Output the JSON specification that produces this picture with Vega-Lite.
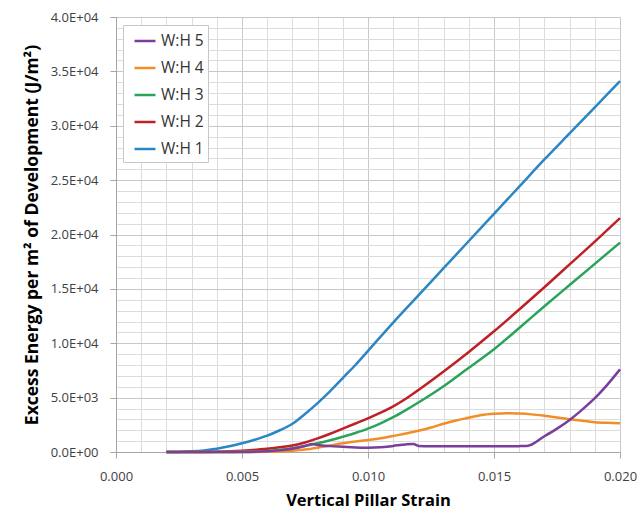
{
  "$schema": "https://vega.github.io/schema/vega-lite/v6.json",
  "width": 504,
  "height": 435,
  "autosize": {"type": "none"},
  "padding": {"left": 116, "top": 17, "right": 21, "bottom": 62},
  "background": "white",
  "config": {
    "font": "Open Sans",
    "view": {"stroke": "#c0c0c0", "strokeWidth": 1}
  },
  "datasets": {
    "d": [
      {"s": 0.002, "e": 0, "c": "W:H 1"}, {"s": 0.0025, "e": 10, "c": "W:H 1"}, {"s": 0.003, "e": 60, "c": "W:H 1"}, {"s": 0.0035, "e": 150, "c": "W:H 1"}, {"s": 0.004, "e": 300, "c": "W:H 1"}, {"s": 0.0045, "e": 520, "c": "W:H 1"}, {"s": 0.005, "e": 800, "c": "W:H 1"}, {"s": 0.0055, "e": 1120, "c": "W:H 1"}, {"s": 0.006, "e": 1500, "c": "W:H 1"}, {"s": 0.0065, "e": 2000, "c": "W:H 1"}, {"s": 0.007, "e": 2600, "c": "W:H 1"}, {"s": 0.0075, "e": 3500, "c": "W:H 1"}, {"s": 0.008, "e": 4500, "c": "W:H 1"}, {"s": 0.0085, "e": 5600, "c": "W:H 1"}, {"s": 0.009, "e": 6800, "c": "W:H 1"}, {"s": 0.0095, "e": 8000, "c": "W:H 1"}, {"s": 0.010, "e": 9300, "c": "W:H 1"}, {"s": 0.011, "e": 11900, "c": "W:H 1"}, {"s": 0.012, "e": 14400, "c": "W:H 1"}, {"s": 0.013, "e": 16900, "c": "W:H 1"}, {"s": 0.014, "e": 19400, "c": "W:H 1"}, {"s": 0.015, "e": 21900, "c": "W:H 1"}, {"s": 0.016, "e": 24400, "c": "W:H 1"}, {"s": 0.017, "e": 26900, "c": "W:H 1"}, {"s": 0.018, "e": 29300, "c": "W:H 1"}, {"s": 0.019, "e": 31700, "c": "W:H 1"}, {"s": 0.020, "e": 34100, "c": "W:H 1"},

      {"s": 0.002, "e": 0, "c": "W:H 2"}, {"s": 0.003, "e": 0, "c": "W:H 2"}, {"s": 0.004, "e": 30, "c": "W:H 2"}, {"s": 0.005, "e": 120, "c": "W:H 2"}, {"s": 0.006, "e": 300, "c": "W:H 2"}, {"s": 0.0065, "e": 430, "c": "W:H 2"}, {"s": 0.007, "e": 600, "c": "W:H 2"}, {"s": 0.0075, "e": 880, "c": "W:H 2"}, {"s": 0.008, "e": 1250, "c": "W:H 2"}, {"s": 0.0085, "e": 1680, "c": "W:H 2"}, {"s": 0.009, "e": 2150, "c": "W:H 2"}, {"s": 0.0095, "e": 2620, "c": "W:H 2"}, {"s": 0.010, "e": 3100, "c": "W:H 2"}, {"s": 0.0105, "e": 3620, "c": "W:H 2"}, {"s": 0.011, "e": 4200, "c": "W:H 2"}, {"s": 0.0115, "e": 4900, "c": "W:H 2"}, {"s": 0.012, "e": 5700, "c": "W:H 2"}, {"s": 0.013, "e": 7400, "c": "W:H 2"}, {"s": 0.014, "e": 9200, "c": "W:H 2"}, {"s": 0.015, "e": 11100, "c": "W:H 2"}, {"s": 0.016, "e": 13100, "c": "W:H 2"}, {"s": 0.017, "e": 15150, "c": "W:H 2"}, {"s": 0.018, "e": 17250, "c": "W:H 2"}, {"s": 0.019, "e": 19350, "c": "W:H 2"}, {"s": 0.020, "e": 21500, "c": "W:H 2"},

      {"s": 0.002, "e": 0, "c": "W:H 3"}, {"s": 0.004, "e": 0, "c": "W:H 3"}, {"s": 0.005, "e": 30, "c": "W:H 3"}, {"s": 0.006, "e": 100, "c": "W:H 3"}, {"s": 0.0065, "e": 200, "c": "W:H 3"}, {"s": 0.007, "e": 350, "c": "W:H 3"}, {"s": 0.0075, "e": 550, "c": "W:H 3"}, {"s": 0.008, "e": 800, "c": "W:H 3"}, {"s": 0.0085, "e": 1080, "c": "W:H 3"}, {"s": 0.009, "e": 1400, "c": "W:H 3"}, {"s": 0.0095, "e": 1750, "c": "W:H 3"}, {"s": 0.010, "e": 2150, "c": "W:H 3"}, {"s": 0.0105, "e": 2640, "c": "W:H 3"}, {"s": 0.011, "e": 3200, "c": "W:H 3"}, {"s": 0.0115, "e": 3850, "c": "W:H 3"}, {"s": 0.012, "e": 4550, "c": "W:H 3"}, {"s": 0.013, "e": 6050, "c": "W:H 3"}, {"s": 0.014, "e": 7750, "c": "W:H 3"}, {"s": 0.015, "e": 9450, "c": "W:H 3"}, {"s": 0.016, "e": 11400, "c": "W:H 3"}, {"s": 0.017, "e": 13400, "c": "W:H 3"}, {"s": 0.018, "e": 15350, "c": "W:H 3"}, {"s": 0.019, "e": 17300, "c": "W:H 3"}, {"s": 0.020, "e": 19250, "c": "W:H 3"},

      {"s": 0.002, "e": 0, "c": "W:H 4"}, {"s": 0.005, "e": 0, "c": "W:H 4"}, {"s": 0.006, "e": 20, "c": "W:H 4"}, {"s": 0.007, "e": 120, "c": "W:H 4"}, {"s": 0.0075, "e": 230, "c": "W:H 4"}, {"s": 0.008, "e": 400, "c": "W:H 4"}, {"s": 0.0085, "e": 600, "c": "W:H 4"}, {"s": 0.009, "e": 800, "c": "W:H 4"}, {"s": 0.0095, "e": 960, "c": "W:H 4"}, {"s": 0.010, "e": 1100, "c": "W:H 4"}, {"s": 0.0105, "e": 1260, "c": "W:H 4"}, {"s": 0.011, "e": 1480, "c": "W:H 4"}, {"s": 0.0115, "e": 1700, "c": "W:H 4"}, {"s": 0.012, "e": 1950, "c": "W:H 4"}, {"s": 0.0125, "e": 2250, "c": "W:H 4"}, {"s": 0.013, "e": 2600, "c": "W:H 4"}, {"s": 0.0135, "e": 2900, "c": "W:H 4"}, {"s": 0.014, "e": 3150, "c": "W:H 4"}, {"s": 0.0145, "e": 3400, "c": "W:H 4"}, {"s": 0.015, "e": 3520, "c": "W:H 4"}, {"s": 0.0155, "e": 3570, "c": "W:H 4"}, {"s": 0.016, "e": 3540, "c": "W:H 4"}, {"s": 0.0165, "e": 3460, "c": "W:H 4"}, {"s": 0.017, "e": 3330, "c": "W:H 4"}, {"s": 0.0175, "e": 3180, "c": "W:H 4"}, {"s": 0.018, "e": 3020, "c": "W:H 4"}, {"s": 0.0185, "e": 2870, "c": "W:H 4"}, {"s": 0.019, "e": 2740, "c": "W:H 4"}, {"s": 0.0195, "e": 2680, "c": "W:H 4"}, {"s": 0.020, "e": 2650, "c": "W:H 4"},

      {"s": 0.002, "e": 0, "c": "W:H 5"}, {"s": 0.005, "e": 0, "c": "W:H 5"}, {"s": 0.006, "e": 60, "c": "W:H 5"}, {"s": 0.0065, "e": 150, "c": "W:H 5"}, {"s": 0.007, "e": 300, "c": "W:H 5"}, {"s": 0.0075, "e": 560, "c": "W:H 5"}, {"s": 0.0078, "e": 740, "c": "W:H 5"}, {"s": 0.008, "e": 650, "c": "W:H 5"}, {"s": 0.0085, "e": 540, "c": "W:H 5"}, {"s": 0.009, "e": 480, "c": "W:H 5"}, {"s": 0.0095, "e": 420, "c": "W:H 5"}, {"s": 0.010, "e": 400, "c": "W:H 5"}, {"s": 0.0105, "e": 430, "c": "W:H 5"}, {"s": 0.011, "e": 560, "c": "W:H 5"}, {"s": 0.0115, "e": 700, "c": "W:H 5"}, {"s": 0.0118, "e": 740, "c": "W:H 5"}, {"s": 0.012, "e": 560, "c": "W:H 5"}, {"s": 0.0125, "e": 520, "c": "W:H 5"}, {"s": 0.013, "e": 530, "c": "W:H 5"}, {"s": 0.014, "e": 530, "c": "W:H 5"}, {"s": 0.015, "e": 530, "c": "W:H 5"}, {"s": 0.016, "e": 540, "c": "W:H 5"}, {"s": 0.0163, "e": 550, "c": "W:H 5"}, {"s": 0.017, "e": 1450, "c": "W:H 5"}, {"s": 0.0175, "e": 2150, "c": "W:H 5"}, {"s": 0.018, "e": 2950, "c": "W:H 5"}, {"s": 0.0185, "e": 3900, "c": "W:H 5"}, {"s": 0.019, "e": 4950, "c": "W:H 5"}, {"s": 0.0195, "e": 6200, "c": "W:H 5"}, {"s": 0.020, "e": 7600, "c": "W:H 5"}
    ]
  },
  "data": {"name": "d"},
  "mark": {"type": "line", "strokeWidth": 2.5, "interpolate": "monotone"},
  "encoding": {
    "x": {
      "field": "s", "type": "quantitative",
      "scale": {"domain": [0, 0.02], "nice": false, "zero": false},
      "axis": {
        "title": "Vertical Pillar Strain",
        "titleFont": "Open Sans", "titleFontSize": 16.5, "titleFontWeight": "bold", "titleColor": "#000000", "titlePadding": 9,
        "values": [0, 0.001, 0.002, 0.003, 0.004, 0.005, 0.006, 0.007, 0.008, 0.009, 0.01, 0.011, 0.012, 0.013, 0.014, 0.015, 0.016, 0.017, 0.018, 0.019, 0.02],
        "labelExpr": "round(datum.value*1000) % 5 == 0 ? format(datum.value, '.3f') : ''",
        "labelFont": "Open Sans", "labelFontSize": 13, "labelColor": "#404040", "labelPadding": 12,
        "grid": true,
        "gridColor": {"condition": {"test": "round(datum.value*1000) % 5 == 0", "value": "#c8c8c8"}, "value": "#dcdcdc"},
        "domainColor": "#a6a6a6",
        "tickSize": 6,
        "tickColor": "#a6a6a6",
        "tickOpacity": {"condition": {"test": "round(datum.value*1000) % 5 == 0", "value": 1}, "value": 0},
        "labelFlush": false
      }
    },
    "y": {
      "field": "e", "type": "quantitative",
      "scale": {"domain": [0, 40000], "nice": false},
      "axis": {
        "title": "Excess Energy per m² of Development (J/m²)",
        "titleFont": "Open Sans", "titleFontSize": 17.5, "titleFontWeight": "bold", "titleColor": "#000000", "titlePadding": 9,
        "values": [0, 1000, 2000, 3000, 4000, 5000, 6000, 7000, 8000, 9000, 10000, 11000, 12000, 13000, 14000, 15000, 16000, 17000, 18000, 19000, 20000, 21000, 22000, 23000, 24000, 25000, 26000, 27000, 28000, 29000, 30000, 31000, 32000, 33000, 34000, 35000, 36000, 37000, 38000, 39000, 40000],
        "labelExpr": "datum.value % 5000 != 0 ? '' : datum.value == 0 ? '0.0E+00' : datum.value < 10000 ? format(datum.value/1000, '.1f') + 'E+03' : format(datum.value/10000, '.1f') + 'E+04'",
        "labelFont": "Open Sans", "labelFontSize": 13, "labelColor": "#404040", "labelPadding": 12,
        "grid": true,
        "gridColor": {"condition": {"test": "datum.value % 5000 == 0", "value": "#c8c8c8"}, "value": "#dcdcdc"},
        "domainColor": "#a6a6a6",
        "tickSize": 6,
        "tickColor": "#a6a6a6",
        "tickOpacity": {"condition": {"test": "datum.value % 5000 == 0", "value": 1}, "value": 0},
        "labelFlush": false
      }
    },
    "color": {
      "field": "c", "type": "nominal",
      "scale": {
        "domain": ["W:H 5", "W:H 4", "W:H 3", "W:H 2", "W:H 1"],
        "range": ["#7a3e9d", "#f18e2a", "#2aa35b", "#be2026", "#2b86c4"]
      },
      "legend": {
        "title": null,
        "orient": "none",
        "legendX": 7,
        "legendY": 8,
        "direction": "vertical",
        "symbolType": "stroke",
        "symbolSize": 441,
        "symbolStrokeWidth": 2.5,
        "symbolOffset": 6,
        "labelFont": "Open Sans",
        "labelFontSize": 15.5,
        "labelColor": "#333333",
        "labelOffset": 4,
        "rowPadding": 6,
        "padding": 4,
        "strokeColor": "#c8c8c8",
        "fillColor": "white"
      }
    }
  }
}
